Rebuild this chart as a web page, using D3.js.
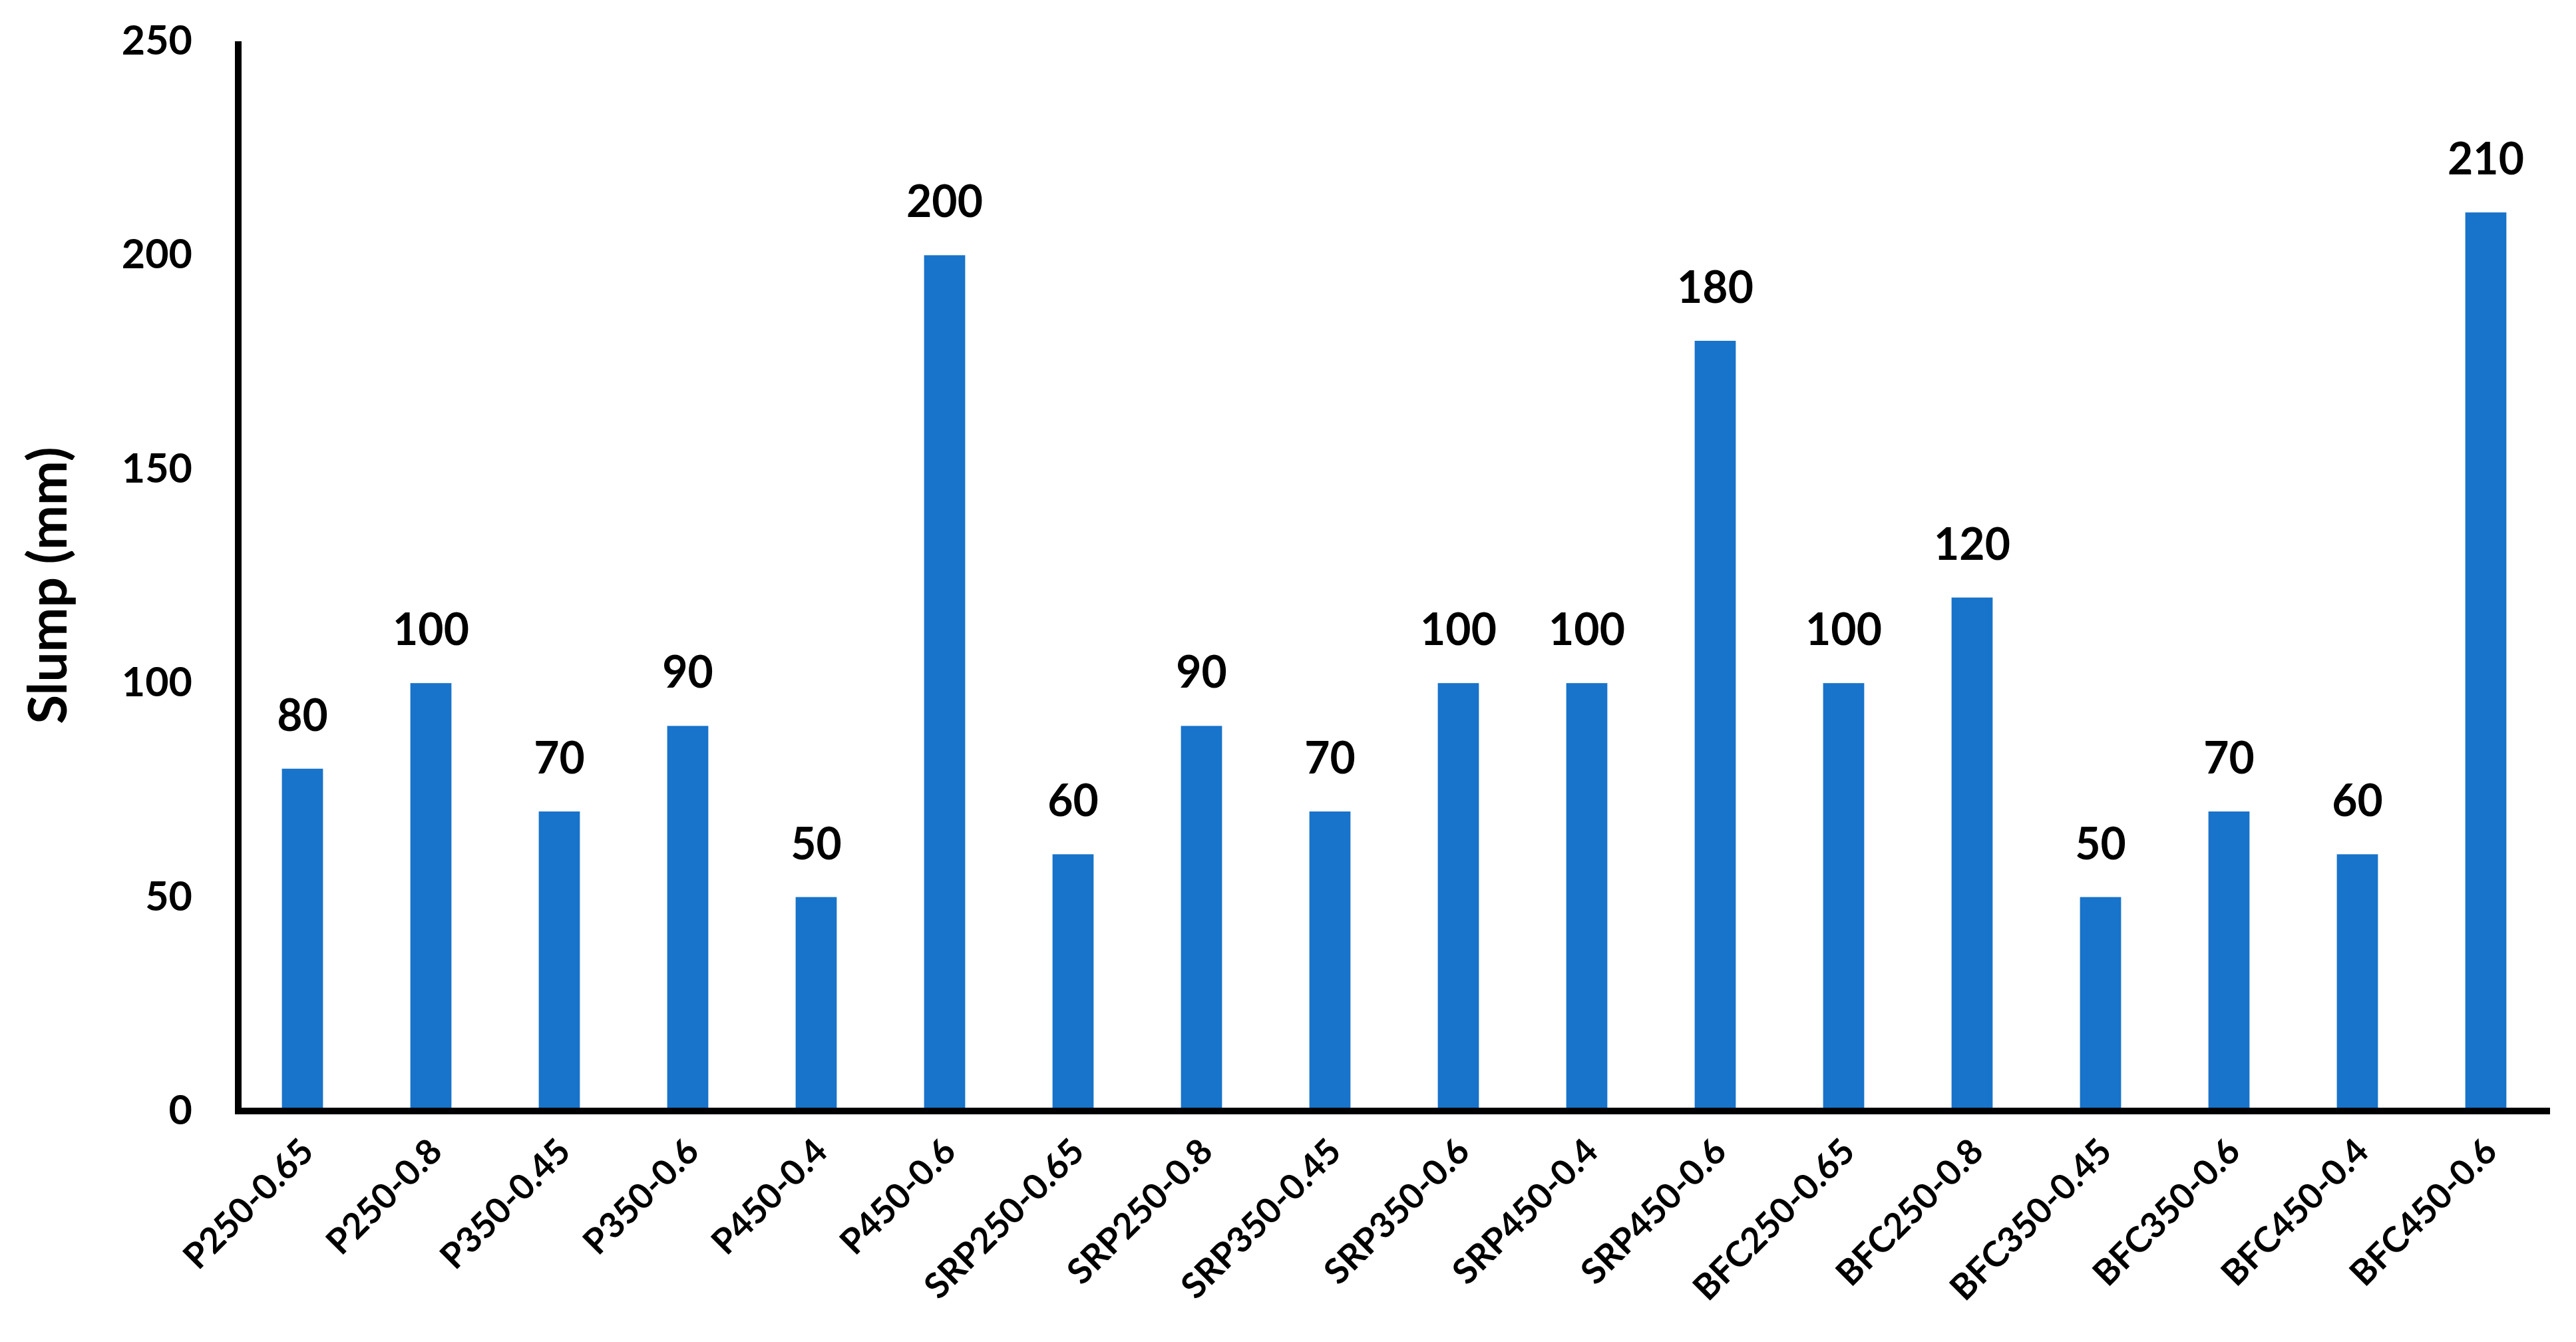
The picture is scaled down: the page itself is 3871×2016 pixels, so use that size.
<!DOCTYPE html>
<html><head><meta charset="utf-8">
<script src="https://cdn.jsdelivr.net/npm/d3@7"></script>
<style>body{margin:0;background:#fff}svg{display:block}</style>
</head><body>
<svg id="chart" width="3871" height="2016"></svg>
<script>
const categories = ["P250-0.65","P250-0.8","P350-0.45","P350-0.6","P450-0.4","P450-0.6","SRP250-0.65","SRP250-0.8","SRP350-0.45","SRP350-0.6","SRP450-0.4","SRP450-0.6","BFC250-0.65","BFC250-0.8","BFC350-0.45","BFC350-0.6","BFC450-0.4","BFC450-0.6"];
const slump = [80,100,70,90,50,200,60,90,70,100,100,180,100,120,50,70,60,210];
const yTicks = [0,50,100,150,200,250];
const yTitle = "Slump (mm)";

(function(){
const svg = d3.select("#chart");
const font = "Lato, 'Open Sans', sans-serif";
const mLeft = 358, mRight = 3832, mTop = 62, mBottom = 1669;
const x = d3.scaleBand().domain(categories).range([mLeft, mRight]).paddingInner(0.68).paddingOuter(0.34);
const y = d3.scaleLinear().domain([0, 250]).range([mBottom, mTop]);

svg.append("g").selectAll("rect").data(slump).join("rect")
  .attr("x", (d,i) => x(categories[i]))
  .attr("width", x.bandwidth())
  .attr("y", d => y(d))
  .attr("height", d => y(0) - y(d))
  .attr("fill", "#1873ca");

svg.append("g").selectAll("text").data(slump).join("text")
  .attr("x", (d,i) => x(categories[i]) + x.bandwidth()/2)
  .attr("y", d => y(d) - 57)
  .attr("text-anchor", "middle")
  .attr("font-family", font).attr("font-weight", "bold").attr("font-size", 66)
  .attr("fill", "#000")
  .text(d => d);

const ya = svg.append("g").attr("transform", `translate(${mLeft},0)`)
  .call(d3.axisLeft(y).tickValues(yTicks).tickSize(0).tickPadding(69));
ya.select(".domain").attr("stroke", "#000").attr("stroke-width", 10).attr("d", `M0,${mTop}V${mBottom}`);
ya.selectAll("text").attr("font-family", font).attr("font-weight", "bold").attr("font-size", 61).attr("fill", "#000");

const xa = svg.append("g").attr("transform", `translate(0,${mBottom})`)
  .call(d3.axisBottom(x).tickSize(0).tickPadding(0));
xa.select(".domain").attr("stroke", "#000").attr("stroke-width", 10).attr("d", `M${mLeft-5},0H${mRight}`);
xa.selectAll("text")
  .attr("font-family", font).attr("font-weight", "bold").attr("font-size", 53).attr("fill", "#000")
  .attr("text-anchor", "end").attr("dy", null).attr("y", 0)
  .attr("transform", "translate(20,64) rotate(-45)");

svg.append("text")
  .attr("transform", `translate(100,${(mTop+mBottom)/2 + 14}) rotate(-90)`)
  .attr("text-anchor", "middle")
  .attr("font-family", font).attr("font-weight", "bold").attr("font-size", 80)
  .attr("fill", "#000")
  .text(yTitle);
})();
</script>
</body></html>
